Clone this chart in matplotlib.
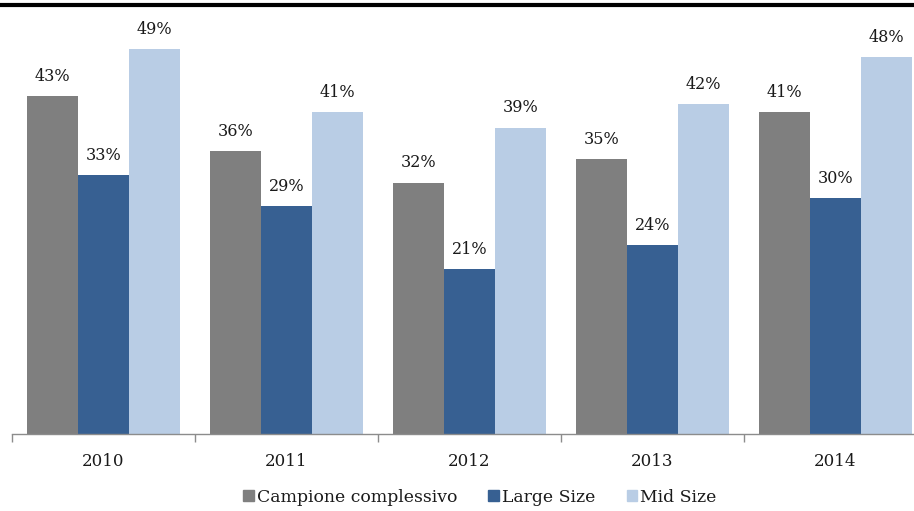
import numpy as np
from matplotlib import pyplot as plt
from matplotlib.lines import Line2D
from matplotlib.patches import Patch

years = ["2010", "2011", "2012", "2013", "2014"]
campione = [43, 36, 32, 35, 41]
large = [33, 29, 21, 24, 30]
mid = [49, 41, 39, 42, 48]
series_names = ["Campione complessivo", "Large Size", "Mid Size"]
colors = ["#7f7f7f", "#376092", "#b9cde5"]

plt.rcParams['font.family'] = ['DejaVu Serif']

fig = plt.figure(figsize=(9.14, 5.11), dpi=100)
# axes run a bit past the right edge, like the cropped original
ax = fig.add_axes([12 / 914, (511 - 434) / 511, 915 / 914, 429 / 511])

x = np.arange(len(years))
w = 0.279
for i, (vals, col) in enumerate(zip([campione, large, mid], colors)):
    pos = x + (i - 1) * w
    ax.bar(pos, vals, width=w, color=col, label=series_names[i])
    for p, v in zip(pos, vals):
        ax.text(p, v + 2.5, f"{v}%", ha="center", va="center", fontsize=11.5, color="#1a1a1a")

ax.set_xlim(-0.5, 4.5)
ax.set_ylim(0, 54.6)
ax.set_yticks([])
for s in ["left", "right", "top"]:
    ax.spines[s].set_visible(False)
ax.spines["bottom"].set_color("#8c8c8c")
ax.spines["bottom"].set_linewidth(1.0)

ax.set_xticks(x)
ax.set_xticklabels(years, fontsize=12, color="#1a1a1a")
ax.tick_params(axis="x", which="major", length=0, pad=14)
ax.set_xticks(np.arange(-0.5, 5, 1), minor=True)
ax.tick_params(axis="x", which="minor", length=6, color="#8c8c8c", width=1)

# thick rule across the top
fig.add_artist(Line2D([0, 1], [1 - 5 / 511, 1 - 5 / 511], color="black", linewidth=3))

handles = [Patch(color=c) for c in colors]
fig.legend(handles, series_names, loc="center", bbox_to_anchor=(480 / 914, 1 - 497 / 511),
           ncol=3, frameon=False, fontsize=12.4, handlelength=0.6, handleheight=0.6,
           handletextpad=0.2, columnspacing=1.8, labelcolor="#1a1a1a")

fig.savefig("out.png", dpi=100)
